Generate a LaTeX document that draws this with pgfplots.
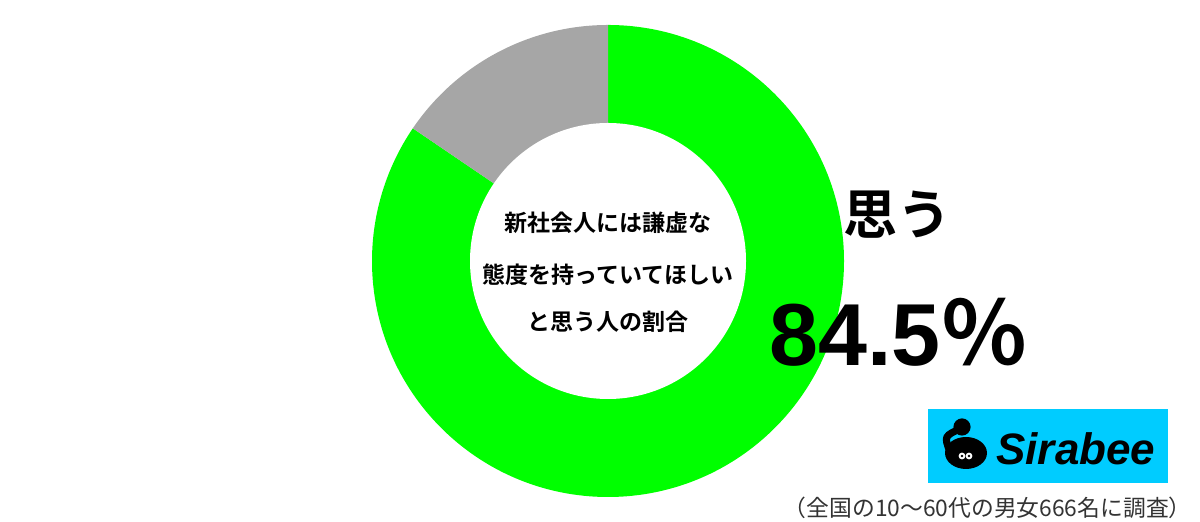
\documentclass[border=0pt]{standalone}
\usepackage{pgfplots}
\pgfplotsset{compat=1.18}
\usepackage{fontspec}
\setmainfont{Noto Sans CJK JP}[BoldFont={Noto Sans CJK JP Bold}]
\newfontfamily\numf{Liberation Sans}
\definecolor{piegreen}{HTML}{00FF00}
\definecolor{piegray}{HTML}{A6A6A6}
\definecolor{sirabee}{HTML}{00CCFF}
% data (percent)
\pgfmathsetmacro{\yes}{84.5}
\pgfmathsetmacro{\no}{15.5}
\pgfmathsetmacro{\angA}{90-3.6*\yes}
\begin{document}
\begin{tikzpicture}
\begin{axis}[x=0.5pt,y=0.5pt,xmin=0,xmax=1200,ymin=0,ymax=522,hide axis,clip=false]
\path (axis cs:0,0) rectangle (axis cs:1200,522);
% donut: centre (608,261), outer r=236px=118pt, inner r=138px=69pt
\fill[piegreen] (axis cs:608,261) -- ++(90:118pt) arc[start angle=90,end angle=\angA,radius=118pt] -- cycle;
\fill[piegray] (axis cs:608,261) -- ++(\angA:118pt) arc[start angle=\angA,end angle=-270,radius=118pt] -- cycle;
\fill[white] (axis cs:608,261) circle[radius=69pt];
% centre text
\node[font=\fontsize{11.5pt}{14pt}\selectfont\bfseries] at (axis cs:608,299) {新社会人には謙虚な};
\node[font=\fontsize{11.5pt}{14pt}\selectfont\bfseries] at (axis cs:608,247) {態度を持っていてほしい};
\node[font=\fontsize{11.5pt}{14pt}\selectfont\bfseries] at (axis cs:608,200) {と思う人の割合};
% labels
\node[font=\fontsize{27pt}{30pt}\selectfont\bfseries] at (axis cs:897,307) {思う};
\node[inner sep=0pt] at (axis cs:899,190) {\numf\bfseries\fontsize{44pt}{48pt}\selectfont 84.5\rmfamily\bfseries ％};
% logo
\fill[sirabee] (axis cs:928,39) rectangle (axis cs:1168,113);
\fill[black] (axis cs:966,69) ellipse[x radius=10.5pt,y radius=8pt];
\draw[black,line width=3.6pt] (axis cs:962,94) .. controls (axis cs:944,86) .. (axis cs:950,70);
\fill[black] (axis cs:962,95) circle[radius=4.3pt];
\fill[white] (axis cs:962,66) circle[radius=1.7pt];
\fill[white] (axis cs:969,66) circle[radius=1.7pt];
\fill[black] (axis cs:962,66) circle[radius=0.7pt];
\fill[black] (axis cs:969,66) circle[radius=0.7pt];
\node[anchor=west,inner sep=0pt,font=\numf\bfseries\itshape\fontsize{22pt}{26pt}\selectfont] at (axis cs:996,73) {Sirabee};
% footer
\node[anchor=east,inner sep=0pt,text=black!80,font=\fontsize{11.4pt}{13pt}\selectfont] at (axis cs:1192,14) {（全国の10〜60代の男女666名に調査）};
\end{axis}
\end{tikzpicture}
\end{document}
